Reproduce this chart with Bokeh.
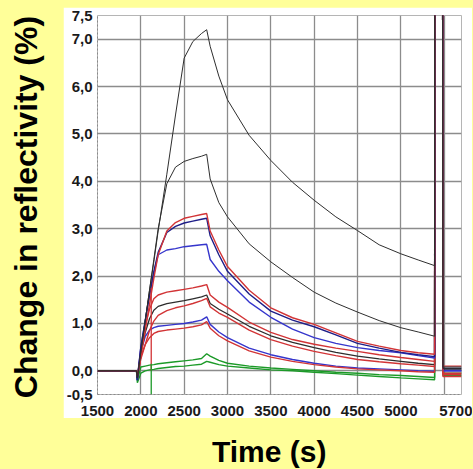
from bokeh.plotting import figure
from bokeh.models import (ColumnDataSource, FixedTicker, CustomJSTickFormatter,
                          Range1d, Div, Spacer)
from bokeh.layouts import row, column
from bokeh.embed import file_html
from bokeh.resources import INLINE

# ---------------- data ----------------
time_s = [1500, 1950, 1960, 2000, 2050, 2100, 2150, 2200, 2300, 2400,
          2500, 2600, 2700, 2760, 2800, 2900, 3000, 3250, 3500, 3750,
          4000, 4250, 4500, 4750, 5000, 5200, 5390, 5392, 5482, 5486,
          5700]

k1 = [0.0, 0.0, -0.15, 0.4, 1.05, 1.7, 2.3, 2.95, 4.15, 5.4,
      6.6, 6.95, 7.12, 7.2, 6.85, 6.22, 5.72, 4.97, 4.44, 3.98,
      3.6, 3.25, 2.96, 2.66, 2.47, 2.34, 2.22, 9.0, 9.0, 0.08,
      0.08]
k2 = [0.0, 0.0, -0.15, 0.4, 1.05, 1.7, 2.35, 3.0, 3.95, 4.3,
      4.42, 4.48, 4.53, 4.57, 4.05, 3.55, 3.25, 2.68, 2.3, 1.97,
      1.66, 1.43, 1.24, 1.06, 0.91, 0.82, 0.73, 9.0, 9.0, 0.05,
      0.05]
n1 = [0.0, 0.0, -0.2, 0.5, 1.05, 1.6, 2.1, 2.5, 2.92, 3.05,
      3.12, 3.16, 3.2, 3.22, 2.85, 2.45, 2.1, 1.62, 1.26, 1.07,
      0.93, 0.76, 0.58, 0.48, 0.39, 0.34, 0.3, 9.0, 9.0, 0.05,
      0.05]
r1 = [0.0, 0.0, -0.1, 0.3, 0.85, 1.4, 1.95, 2.45, 2.95, 3.13,
      3.22, 3.26, 3.3, 3.32, 2.95, 2.55, 2.2, 1.7, 1.33, 1.12,
      0.98, 0.8, 0.62, 0.52, 0.43, 0.38, 0.35, 9.0, 9.0, -0.05,
      -0.05]
b2 = [0.0, 0.0, -0.15, 0.5, 1.05, 1.6, 2.05, 2.45, 2.55, 2.58,
      2.62, 2.64, 2.66, 2.67, 2.35, 2.1, 1.9, 1.45, 1.13, 0.88,
      0.7, 0.58, 0.49, 0.43, 0.38, 0.32, 0.27, 9.0, 9.0, 0.0,
      0.0]
r3 = [0.0, 0.0, -0.15, 0.45, 0.95, 1.3, 1.52, 1.6, 1.66, 1.69,
      1.72, 1.75, 1.79, 1.82, 1.6, 1.45, 1.34, 1.03, 0.81, 0.66,
      0.56, 0.48, 0.41, 0.34, 0.28, 0.24, 0.2, 9.0, 9.0, 0.1,
      0.1]
k3 = [0.0, 0.0, -0.15, 0.4, 0.8, 1.1, 1.28, 1.36, 1.42, 1.45,
      1.48, 1.52, 1.56, 1.6, 1.42, 1.3, 1.2, 0.94, 0.74, 0.6,
      0.49, 0.39, 0.31, 0.25, 0.2, 0.16, 0.13, 9.0, 9.0, 0.02,
      0.02]
r4 = [0.0, 0.0, -0.1, 0.25, 0.55, 0.85, 1.05, 1.17, 1.27, 1.33,
      1.37, 1.42, 1.48, 1.53, 1.35, 1.22, 1.13, 0.86, 0.66, 0.52,
      0.41, 0.32, 0.24, 0.19, 0.15, 0.12, 0.09, 9.0, 9.0, -0.08,
      -0.08]
b4 = [0.0, 0.0, -0.2, 0.4, 0.72, 0.86, 0.91, 0.94, 0.96, 0.98,
      1.0, 1.03, 1.07, 1.14, 0.98, 0.82, 0.7, 0.48, 0.34, 0.24,
      0.16, 0.1, 0.06, 0.04, 0.02, 0.0, -0.01, 9.0, 9.0, 0.0,
      0.0]
r5 = [0.0, 0.0, -0.15, 0.3, 0.55, 0.7, 0.79, 0.83, 0.86, 0.88,
      0.9, 0.93, 0.97, 1.04, 0.9, 0.74, 0.63, 0.42, 0.29, 0.2,
      0.13, 0.08, 0.04, 0.02, 0.0, -0.02, -0.03, 9.0, 9.0, -0.12,
      -0.12]
g1 = [0.0, 0.0, -0.2, 0.08, 0.1, 0.12, 0.13, 0.15, 0.17, 0.19,
      0.21, 0.23, 0.26, 0.36, 0.31, 0.22, 0.16, 0.1, 0.06, 0.03,
      0.0, -0.03, -0.05, -0.08, -0.1, -0.12, -0.14, 9.0, 9.0, -0.1,
      -0.1]
g2 = [0.0, 0.0, -0.25, -0.05, 0.0, 0.02, 0.03, 0.05, 0.07, 0.09,
      0.1, 0.12, 0.14, 0.2, 0.18, 0.13, 0.1, 0.06, 0.02, 0.0,
      -0.03, -0.06, -0.09, -0.12, -0.15, -0.17, -0.19, 9.0, 9.0, -0.05,
      -0.05]

# injection artefacts (vertical spikes)
spike_t = [2120, 2120]
spike_red = [0.0, 1.75]
spike_green = [0.15, -0.55]

x_ticks = [1500, 2000, 2500, 3000, 3500, 4000, 4500, 5000, 5500, 5700]
x_tick_labels = ["1500", "2000", "2500", "3000", "3500", "4000", "4500",
                 "5000", "", "5700"]
y_ticks = [-0.5, 0, 1, 2, 3, 4, 5, 6, 7, 7.5]
y_tick_labels = ["-0,5", "0,0", "1,0", "2,0", "3,0", "4,0", "5,0", "6,0",
                 "7,0", "7,5"]

x_title = "Time (s)"
y_title = "Change in reflectivity (%)"

# ---------------- styling ----------------
BG = "#FFFF99"
BLACK = "#2e2e2e"
RED = "#d23436"
BLUE = "#3535cc"
NAVY = "#1e1e88"
GREEN = "#1c9a28"

src = ColumnDataSource(dict(t=time_s, k1=k1, k2=k2, n1=n1, r1=r1, b2=b2,
                            r3=r3, k3=k3, r4=r4, b4=b4, r5=r5, g1=g1, g2=g2))

p = figure(width=409, height=411, output_backend="svg", toolbar_location=None,
           x_range=Range1d(1500, 5700), y_range=Range1d(-0.5, 7.5),
           min_border_left=33, min_border_right=11, min_border_top=8,
           min_border_bottom=24, margin=0)
p.border_fill_color = "white"
p.background_fill_color = "white"
p.outline_line_color = "#b5b5b5"

fmt_code = """
const i = tvals.findIndex(v => Math.abs(v - tick) < 1e-9);
return i >= 0 ? tlabels[i] : "";
"""
p.xaxis.ticker = FixedTicker(ticks=x_ticks)
p.xaxis.formatter = CustomJSTickFormatter(args=dict(tvals=x_ticks, tlabels=x_tick_labels), code=fmt_code)
p.yaxis.ticker = FixedTicker(ticks=y_ticks)
p.yaxis.formatter = CustomJSTickFormatter(args=dict(tvals=y_ticks, tlabels=y_tick_labels), code=fmt_code)

for ax in (p.xaxis, p.yaxis):
    ax.major_label_text_font = "Liberation Sans"
    ax.major_label_text_font_style = "bold"
    ax.major_label_text_font_size = "15px"
    ax.major_label_text_color = "#1a1a1a"
    ax.major_tick_line_color = None
    ax.minor_tick_line_color = None
    ax.major_tick_out = 0
    ax.major_tick_in = 0
    ax.minor_tick_out = 0
    ax.minor_tick_in = 0
    ax.axis_line_color = "#8a8a8a"
    ax.axis_line_dash = "2 2"
p.xaxis.major_label_standoff = 11
p.yaxis.major_label_standoff = 5

p.xgrid.grid_line_color = "#8c8c8c"
p.ygrid.grid_line_color = "#8c8c8c"
p.xgrid.grid_line_width = 1.3
p.ygrid.grid_line_width = 1.3

series = [("g2", GREEN, 1.4), ("g1", GREEN, 1.4), ("b4", BLUE, 1.4),
          ("r5", RED, 1.4), ("k3", BLACK, 1.3), ("r4", RED, 1.4),
          ("r3", RED, 1.4), ("b2", BLUE, 1.4), ("n1", NAVY, 1.4),
          ("r1", RED, 1.4), ("k2", BLACK, 1.0), ("k1", BLACK, 1.0)]
for col, color, w in series:
    p.line("t", col, source=src, line_color=color, line_width=w)

p.line(spike_t, spike_red, line_color=RED, line_width=1.3)
p.line(spike_t, spike_green, line_color=GREEN, line_width=1.3)

ydiv = Div(width=63, height=411, margin=0, styles={"overflow": "hidden"},
           text=('<div style="width:410px;height:63px;transform-origin:0 0;'
                 'transform:translate(0px,405px) rotate(-90deg);text-align:center;'
                 'font-family:\'Liberation Sans\';font-weight:bold;font-size:32px;'
                 'line-height:52px;white-space:nowrap;color:#000;">'
                 + y_title + '</div>'))
xdiv = Div(width=472, height=50, margin=0, styles={"overflow": "hidden"},
           text=('<div style="padding-top:19px;padding-left:212px;'
                 'font-family:\'Liberation Sans\';font-weight:bold;font-size:30px;'
                 'line-height:30px;white-space:nowrap;color:#000;">'
                 + x_title + '</div>'))

layout = column(Spacer(width=10, height=7, margin=0),
                row(ydiv, p, spacing=0), xdiv, spacing=0)

html = file_html(layout, INLINE)
html = html.replace("</head>", "<style>html,body{background:#FFFF99;}</style></head>", 1)
open("out.html", "w").write(html)
